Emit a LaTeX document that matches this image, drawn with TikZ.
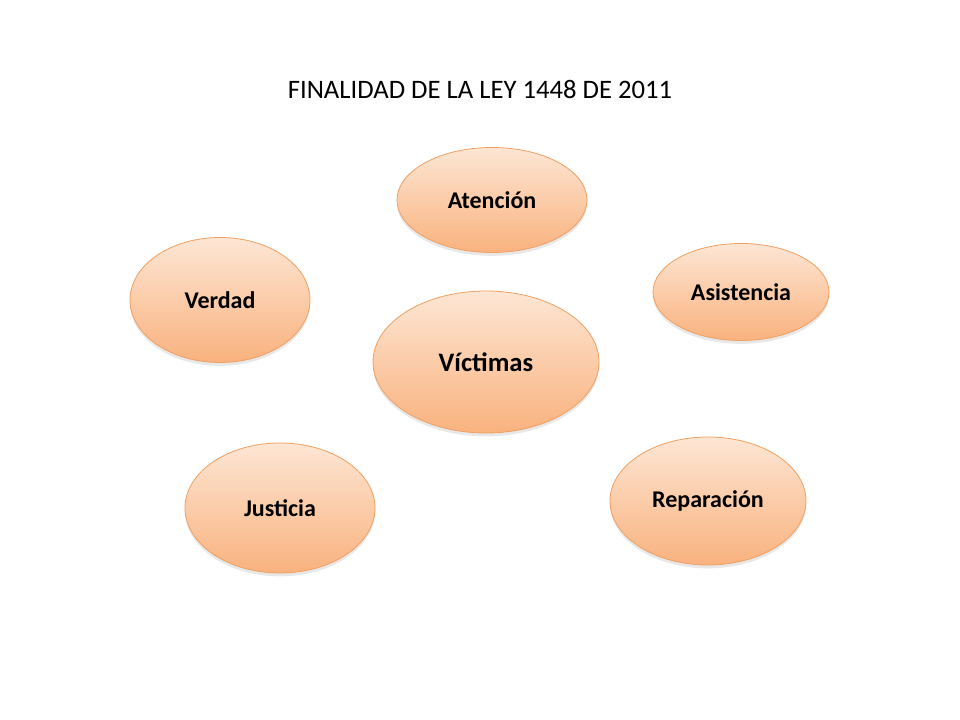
\documentclass[tikz,border=0pt]{standalone}
\usepackage{fontspec}
\setmainfont{Carlito}
\usetikzlibrary{shapes.geometric,shadows}
\definecolor{topc}{HTML}{FDE6D4}
\definecolor{botc}{HTML}{F9B27E}
\definecolor{edgec}{HTML}{EFA062}
\tikzset{
  bub/.style={ellipse, draw=edgec, line width=0.6pt, inner sep=0pt,
    top color=topc, bottom color=botc, text=black,
    font=\bfseries\fontsize{18}{20}\selectfont,
    drop shadow={opacity=0.18, shadow xshift=0pt, shadow yshift=-2.5pt}},
  ttl/.style={font=\fontsize{20}{24}\selectfont, text=black}
}
\begin{document}
\begin{tikzpicture}[x=0.75pt,y=-0.75pt]
\useasboundingbox[fill=white] (0,0) rectangle (960,720);
\node[ttl] (title) at (480,89) {FINALIDAD DE LA LEY 1448 DE 2011};
\node[bub, minimum width=142.5pt, minimum height=78.75pt] (aten) at (492,200) {Atención};
\node[bub, minimum width=135pt, minimum height=93.75pt] (verd) at (220,300) {Verdad};
\node[bub, minimum width=132pt, minimum height=72.75pt] (asis) at (741,292) {Asistencia};
\node[bub, minimum width=169.5pt, minimum height=106.5pt, font=\bfseries\fontsize{20}{24}\selectfont] (vict) at (486,362) {Víctimas};
\node[bub, minimum width=142.5pt, minimum height=97.5pt] (just) at (280,508) {Justicia};
\node[bub, minimum width=147pt, minimum height=96pt] (repa) at (708,501) {Reparación};
\end{tikzpicture}
\end{document}
